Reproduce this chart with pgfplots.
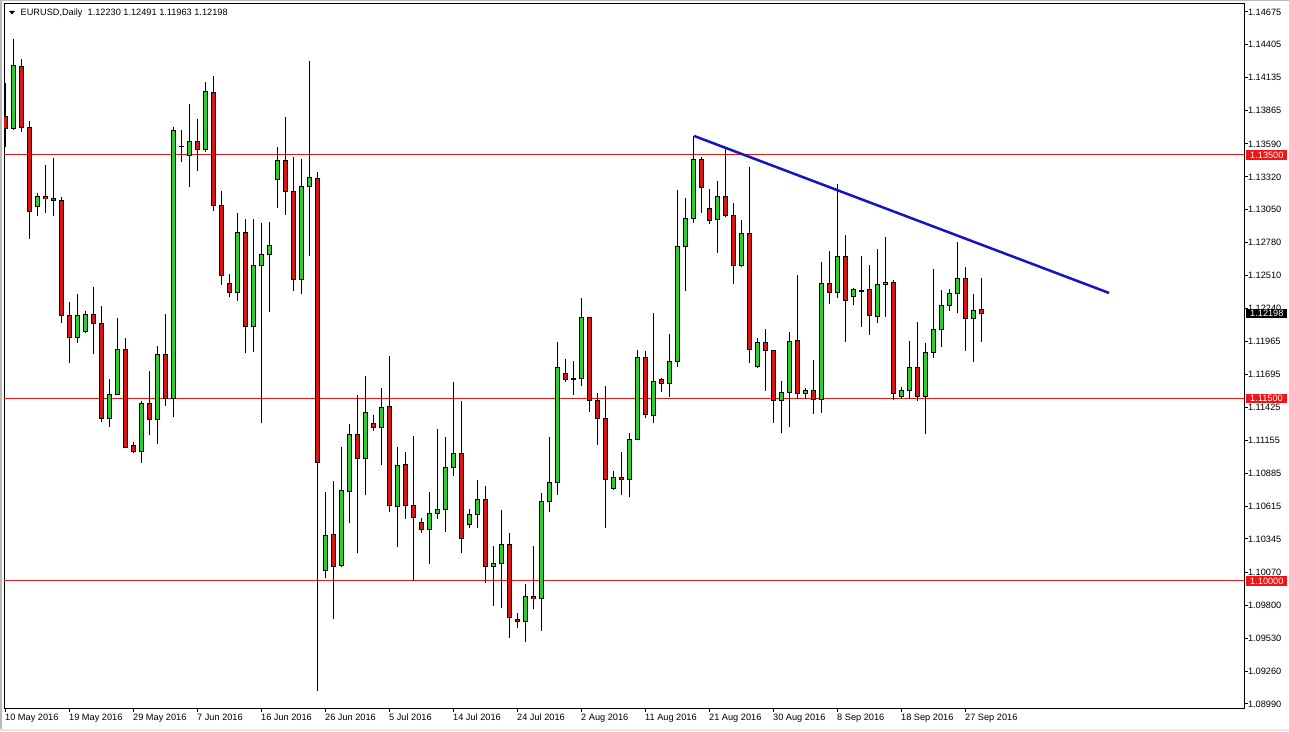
\documentclass[border=0pt]{standalone}
\usepackage{pgfplots}
\pgfplotsset{compat=1.18}
\usepackage{pgfplotstable}
\usepackage{fontspec}
\setmainfont{Liberation Sans}
\definecolor{bull}{RGB}{40,210,40}
\definecolor{bear}{RGB}{222,20,20}
\definecolor{lvl}{RGB}{225,25,25}
\definecolor{boxred}{RGB}{240,20,20}
\definecolor{trend}{RGB}{20,20,195}
\newcommand{\mtfont}{\fontsize{9.2}{10}\selectfont}

\pgfplotstableread{
x o h l c
1 1.13719 1.14451 1.13705 1.14237
4 1.13075 1.13185 1.12999 1.13157
9 1.12002 1.12358 1.11953 1.12183
10 1.12048 1.12218 1.12035 1.12193
13 1.11336 1.11659 1.11267 1.11534
14 1.11534 1.12158 1.11525 1.11903
17 1.11062 1.11479 1.10967 1.11460
19 1.11323 1.11931 1.11123 1.11862
21 1.11501 1.13733 1.11350 1.13705
22 1.13574 1.13705 1.13442 1.13574
23 1.13500 1.13919 1.13240 1.13615
25 1.13547 1.14102 1.13527 1.14018
29 1.12372 1.13026 1.12303 1.12865
31 1.12089 1.12977 1.11884 1.12594
32 1.12590 1.12939 1.11295 1.12684
33 1.12684 1.12952 1.12212 1.12758
34 1.13300 1.13568 1.13067 1.13456
37 1.12479 1.13467 1.12355 1.13240
38 1.13240 1.14272 1.12670 1.13313
40 1.10090 1.10728 1.10022 1.10375
42 1.10123 1.11103 1.10112 1.10739
43 1.10739 1.11290 1.10474 1.11205
45 1.11008 1.11684 1.10704 1.11386
47 1.11263 1.11585 1.10955 1.11429
49 1.10610 1.11098 1.10277 1.10950
53 1.10424 1.10728 1.10137 1.10556
54 1.10556 1.11246 1.10507 1.10591
55 1.10591 1.11180 1.10405 1.10934
56 1.10934 1.11632 1.10865 1.11049
58 1.10466 1.10589 1.10433 1.10548
59 1.10548 1.10829 1.10433 1.10671
61 1.10123 1.10287 1.09797 1.10142
62 1.10142 1.10583 1.09775 1.10301
65 1.09668 1.09975 1.09501 1.09870
67 1.09857 1.10720 1.09591 1.10654
68 1.10654 1.11185 1.10569 1.10811
69 1.10811 1.11966 1.10706 1.11756
71 1.11659 1.11807 1.11528 1.11660
72 1.11659 1.12327 1.11604 1.12166
76 1.10761 1.10906 1.10747 1.10852
78 1.10835 1.11213 1.10687 1.11164
79 1.11164 1.11898 1.11158 1.11838
81 1.11364 1.12199 1.11295 1.11637
83 1.11624 1.12027 1.11514 1.11802
84 1.11802 1.13212 1.11760 1.12746
85 1.12746 1.13144 1.12385 1.12980
86 1.12980 1.13656 1.12939 1.13465
89 1.12966 1.13289 1.12697 1.13157
92 1.12590 1.12966 1.12577 1.12857
94 1.11760 1.11994 1.11752 1.11961
97 1.11487 1.11643 1.11213 1.11550
98 1.11550 1.12048 1.11263 1.11972
100 1.11540 1.11583 1.11493 1.11569
102 1.11493 1.12621 1.11382 1.12446
104 1.12369 1.13260 1.12327 1.12670
106 1.12336 1.12405 1.12267 1.12391
107 1.12385 1.12670 1.12089 1.12386
109 1.12171 1.12728 1.12117 1.12437
110 1.12434 1.12824 1.12171 1.12454
112 1.11514 1.11591 1.11493 1.11569
113 1.11569 1.11972 1.11493 1.11756
115 1.11514 1.11958 1.11207 1.11879
116 1.11879 1.12563 1.11834 1.12068
117 1.12068 1.12391 1.11925 1.12265
118 1.12265 1.12396 1.12221 1.12364
119 1.12364 1.12785 1.12199 1.12489
121 1.12158 1.12358 1.11802 1.12224
}\upbars

\pgfplotstableread{
x o h l c
0 1.13815 1.14094 1.13568 1.13719
2 1.14229 1.14286 1.13691 1.13728
3 1.13728 1.13779 1.12812 1.13037
5 1.13157 1.13418 1.13021 1.13141
6 1.13144 1.13475 1.12999 1.13128
7 1.13130 1.13152 1.12122 1.12183
8 1.12183 1.12290 1.11788 1.12002
11 1.12193 1.12418 1.11862 1.12117
12 1.12117 1.12259 1.11308 1.11336
15 1.11903 1.11994 1.11090 1.11098
16 1.11109 1.11142 1.11054 1.11062
18 1.11460 1.11725 1.11199 1.11328
20 1.11862 1.12196 1.11437 1.11501
24 1.13615 1.13796 1.13371 1.13547
26 1.14018 1.14149 1.13042 1.13087
27 1.13087 1.13207 1.12432 1.12512
28 1.12446 1.12522 1.12331 1.12369
30 1.12865 1.12977 1.11876 1.12089
35 1.13456 1.13815 1.13005 1.13202
36 1.13202 1.13486 1.12385 1.12479
39 1.13309 1.13360 1.09098 1.10975
41 1.10383 1.10824 1.09687 1.10123
44 1.11205 1.11528 1.10227 1.11008
46 1.11290 1.11364 1.11235 1.11263
48 1.11435 1.11846 1.10564 1.10622
50 1.10958 1.11057 1.10507 1.10622
51 1.10622 1.11191 1.10002 1.10523
52 1.10482 1.10515 1.10396 1.10424
57 1.11049 1.11476 1.10232 1.10350
60 1.10671 1.10783 1.09981 1.10123
63 1.10301 1.10392 1.09534 1.09701
64 1.09685 1.09739 1.09611 1.09668
66 1.09870 1.10290 1.09767 1.09857
70 1.11706 1.11824 1.11637 1.11657
73 1.12166 1.12168 1.11391 1.11487
74 1.11487 1.11548 1.11117 1.11336
75 1.11336 1.11602 1.10439 1.10835
77 1.10852 1.11060 1.10702 1.10835
80 1.11838 1.11892 1.11336 1.11369
82 1.11657 1.11670 1.11555 1.11624
87 1.13465 1.13486 1.13026 1.13235
88 1.13062 1.13221 1.12931 1.12966
90 1.13157 1.13555 1.12988 1.13007
91 1.13001 1.13103 1.12437 1.12590
93 1.12857 1.13399 1.11788 1.11903
95 1.11961 1.12068 1.11563 1.11890
96 1.11890 1.11898 1.11300 1.11487
99 1.11977 1.12512 1.11493 1.11542
101 1.11569 1.11816 1.11372 1.11493
103 1.12446 1.12711 1.12272 1.12369
105 1.12670 1.12841 1.11963 1.12303
108 1.12391 1.12596 1.12021 1.12180
111 1.12454 1.12473 1.11487 1.11536
114 1.11756 1.12125 1.11481 1.11514
120 1.12489 1.12577 1.11892 1.12158
122 1.12230 1.12491 1.11963 1.12198
}\downbars

\begin{document}
\begin{tikzpicture}[x=1pt,y=1pt]
\useasboundingbox (0,0) rectangle (1289,731);
\fill[white] (0,0) rectangle (1289,731);
\fill[gray!55] (0,0) rectangle (2,731);
\fill[gray!55] (0,730) rectangle (1289,731);
\fill[gray!20] (0,0) rectangle (1289,2.5);
\begin{axis}[
  name=ax,
  at={(4pt,23pt)}, anchor=south west,
  scale only axis, width=1240.3pt, height=704.7pt,
  xmin=-0.1625, xmax=154.875, ymin=1.08956, ymax=1.14746,
  clip mode=individual,
  axis line style={black, line width=1pt},
  tick style={black, line width=1pt},
  tick align=outside, major tick length=3.5pt,
  xtick pos=left, ytick pos=right, yticklabel pos=right,
  minor tick num=0,
  xtick={0,8,16,24,32,40,48,56,64,72,80,88,96,104,112,120},
  xticklabels={10 May 2016,19 May 2016,29 May 2016,7 Jun 2016,16 Jun 2016,26 Jun 2016,5 Jul 2016,14 Jul 2016,24 Jul 2016,2 Aug 2016,11 Aug 2016,21 Aug 2016,30 Aug 2016,8 Sep 2016,18 Sep 2016,27 Sep 2016},
  ytick={1.14675,1.14405,1.14135,1.13865,1.13590,1.13320,1.13050,1.12780,1.12510,1.12240,1.11965,1.11695,1.11425,1.11155,1.10885,1.10615,1.10345,1.10070,1.09800,1.09530,1.09260,1.08990},
  yticklabels={1.14675,1.14405,1.14135,1.13865,1.13590,1.13320,1.13050,1.12780,1.12510,1.12240,1.11965,1.11695,1.11425,1.11155,1.10885,1.10615,1.10345,1.10070,1.09800,1.09530,1.09260,1.08990},
  xticklabel style={anchor=north west, inner sep=0pt, font=\mtfont, xshift=-0.3pt, yshift=-2pt},
  yticklabel style={anchor=west, inner sep=0pt, font=\mtfont, xshift=0pt},
  /pgf/number format/assume math mode=true,
]
% horizontal levels
\addplot[lvl, line width=1pt, forget plot] coordinates {(-1,1.135) (156,1.135)};
\addplot[lvl, line width=1pt, forget plot] coordinates {(-1,1.115) (156,1.115)};
\addplot[lvl, line width=1pt, forget plot] coordinates {(-1,1.100) (156,1.100)};
% wicks
\addplot[draw=none, mark=none, forget plot, error bars/.cd, y dir=plus, y explicit, error mark=none,
  error bar style={draw=black, line width=1pt}]
  table[x=x, y=l, y error expr={\thisrow{h}-\thisrow{l}}] {\upbars};
\addplot[draw=none, mark=none, forget plot, error bars/.cd, y dir=plus, y explicit, error mark=none,
  error bar style={draw=black, line width=1pt}]
  table[x=x, y=l, y error expr={\thisrow{h}-\thisrow{l}}] {\downbars};
% body outlines
\addplot[draw=none, mark=none, forget plot, error bars/.cd, y dir=both, y explicit, error mark=none,
  error bar style={draw=black, line width=5pt}]
  table[x=x, y expr={(\thisrow{o}+\thisrow{c})/2}, y error expr={abs(\thisrow{c}-\thisrow{o})/2+0.000041}] {\upbars};
\addplot[draw=none, mark=none, forget plot, error bars/.cd, y dir=both, y explicit, error mark=none,
  error bar style={draw=black, line width=5pt}]
  table[x=x, y expr={(\thisrow{o}+\thisrow{c})/2}, y error expr={abs(\thisrow{c}-\thisrow{o})/2+0.000041}] {\downbars};
% body fills
\addplot[draw=none, mark=none, forget plot, error bars/.cd, y dir=both, y explicit, error mark=none,
  error bar style={draw=bull, line width=3pt}]
  table[x=x, y expr={(\thisrow{o}+\thisrow{c})/2}, y error expr={max(abs(\thisrow{c}-\thisrow{o})/2-0.000041,0)}] {\upbars};
\addplot[draw=none, mark=none, forget plot, error bars/.cd, y dir=both, y explicit, error mark=none,
  error bar style={draw=bear, line width=3pt}]
  table[x=x, y expr={(\thisrow{o}+\thisrow{c})/2}, y error expr={max(abs(\thisrow{c}-\thisrow{o})/2-0.000041,0)}] {\downbars};
% trend line
\addplot[trend, line width=2.5pt, forget plot] coordinates {(86.1,1.13656) (137.96,1.12366)};
\coordinate (L1) at (axis cs:154.875,1.135);
\coordinate (L2) at (axis cs:154.875,1.115);
\coordinate (L3) at (axis cs:154.875,1.100);
\coordinate (L4) at (axis cs:154.875,1.12198);
\end{axis}
\foreach \c/\t in {L1/1.13500,L2/1.11500,L3/1.10000}{
  \node[fill=boxred, text=white, anchor=west, inner xsep=4pt, inner ysep=0pt, minimum height=9.6pt, font=\mtfont, xshift=1.7pt] at (\c) {\t};
}
\node[fill=black, text=white, anchor=west, inner xsep=4pt, inner ysep=0pt, minimum height=9.6pt, font=\mtfont, xshift=1.7pt] at (L4) {1.12198};
% title
\fill[black] (9,720) -- (15,720) -- (12,716.5) -- cycle;
\node[anchor=west, inner sep=0pt, font=\mtfont] at (20.5,718.3) {EURUSD,Daily\ \ 1.12230 1.12491 1.11963 1.12198};
\end{tikzpicture}
\end{document}
